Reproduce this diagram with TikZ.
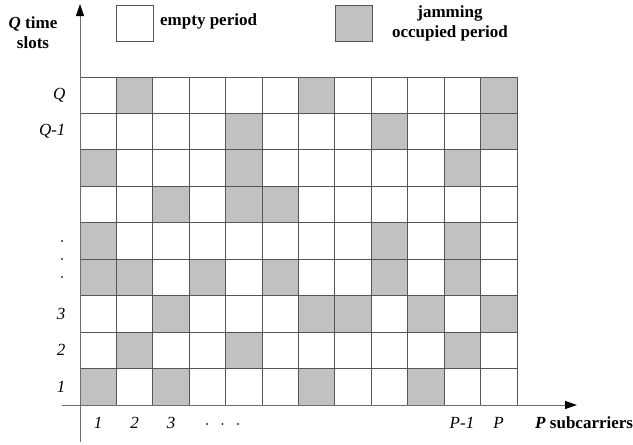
\documentclass[tikz,border=0pt]{standalone}
\usepackage{fontspec}
\setmainfont{Liberation Serif}
\usetikzlibrary{arrows.meta}
\definecolor{gridc}{RGB}{85,85,85}
\definecolor{jam}{RGB}{192,193,195}
\definecolor{axisc}{RGB}{110,110,110}
\begin{document}
\begin{tikzpicture}[x=1pt,y=-1pt,
  cellline/.style={draw=gridc,line width=0.9pt},
  jamcell/.style={fill=jam},
  axisline/.style={draw=axisc,line width=1pt,-{Triangle[length=12pt,width=8pt,fill=black,color=black]}},
  lbl/.style={font=\fontsize{17}{19}\selectfont\itshape},
  dotmark/.style={circle,fill=black!80,inner sep=0pt,minimum size=2.4pt},
  legtxt/.style={font=\fontsize{17}{20}\selectfont\bfseries,align=center},
  legbox/.style={draw=gridc,line width=0.9pt,minimum width=37pt,minimum height=36pt,inner sep=0pt}]
\useasboundingbox (0,0) rectangle (633,445);
\def\cw{36.42}
\def\ch{36.44}
% gray cells: row (from top), column
\foreach \r/\c in {1/2,1/7,1/12, 2/5,2/9,2/12, 3/1,3/5,3/11, 4/3,4/5,4/6,
  5/1,5/9,5/11, 6/1,6/2,6/4,6/6,6/9,6/11, 7/3,7/7,7/8,7/10,7/12,
  8/2,8/5,8/11, 9/1,9/3,9/7,9/10}{
  \fill[jamcell] ({80+(\c-1)*\cw},{77+(\r-1)*\ch}) rectangle ++(\cw,\ch);
}
% grid lines
\foreach \i in {0,...,12}{
  \draw[cellline] ({80+\i*\cw},77) -- ({80+\i*\cw},405);
}
\foreach \j in {0,...,9}{
  \draw[cellline] (80,{77+\j*\ch}) -- (517,{77+\j*\ch});
}
% axes
\coordinate (ybot) at (80,442);
\coordinate (ytop) at (80,4);
\coordinate (xleft) at (62,405);
\coordinate (xright) at (577,405);
\draw[axisline] (ybot) -- (ytop);
\draw[axisline] (xleft) -- (xright);
% axis titles
\node[legtxt] (ytitle) at (33,33) {\textit{Q} time\\slots};
\node[legtxt,anchor=west,inner sep=0pt] (xtitle) at (535,423) {\textit{P} subcarriers};
% column labels
\node[lbl] (c1) at (98.2,423) {1};
\node[lbl] (c2) at (134.6,423) {2};
\node[lbl] (c3) at (171,423) {3};
\node[dotmark] (cd1) at (207,424) {};
\node[dotmark] (cd2) at (222.5,424) {};
\node[dotmark] (cd3) at (238,424) {};
\node[lbl] (cp1) at (462,423) {P-1};
\node[lbl] (cp) at (498.6,423) {P};
% row labels
\node[lbl,anchor=east] (rq) at (69,95.2) {Q};
\node[lbl,anchor=east] (rq1) at (69,131.6) {Q-1};
\node[dotmark] (rd1) at (62,241) {};
\node[dotmark] (rd2) at (62,259) {};
\node[dotmark] (rd3) at (62,277) {};
\node[lbl,anchor=east] (r3) at (69,313.6) {3};
\node[lbl,anchor=east] (r2) at (69,350) {2};
\node[lbl,anchor=east] (r1) at (69,386.4) {1};
% legend
\node[legbox,fill=white] (lempty) at (134.5,23) {};
\node[legtxt,anchor=west,inner sep=0pt] (tempty) at (160,21) {empty period};
\node[legbox,fill=jam] (ljam) at (353.5,23) {};
\node[legtxt] (tjam) at (450,23) {jamming\\occupied period};
\end{tikzpicture}
\end{document}
